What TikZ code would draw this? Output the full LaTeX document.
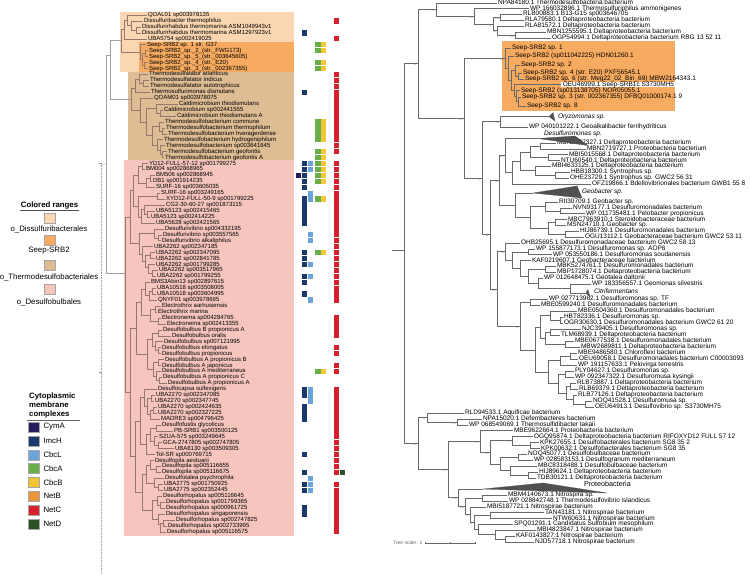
\documentclass[tikz,border=0pt]{standalone}
\usepackage{fontspec}
\setmainfont{Liberation Sans}
\definecolor{cDiss}{RGB}{250,215,178}
\definecolor{cSeep}{RGB}{246,171,96}
\definecolor{cTherm}{RGB}{222,188,148}
\definecolor{cDesb}{RGB}{246,198,190}
\definecolor{cLine}{RGB}{150,120,110}
\definecolor{cRoot}{RGB}{160,160,160}
\definecolor{cRline}{RGB}{105,105,105}
\definecolor{cClps}{RGB}{80,80,80}
\definecolor{cCymA}{RGB}{38,30,92}
\definecolor{cImcH}{RGB}{27,58,108}
\definecolor{cCbcL}{RGB}{106,164,218}
\definecolor{cCbcA}{RGB}{106,174,74}
\definecolor{cCbcB}{RGB}{242,198,52}
\definecolor{cNetB}{RGB}{234,150,56}
\definecolor{cNetC}{RGB}{214,32,44}
\definecolor{cNetD}{RGB}{42,82,36}
\tikzset{
	lf/.style      ={anchor=west, inner xsep=0.8pt, inner ysep=0pt, text height=4.2pt, text depth=1.1pt, font=\fontsize{6}{6}\selectfont},
	rf/.style      ={anchor=west, inner xsep=0.8pt, inner ysep=0pt, text height=3.9pt, text depth=0.9pt, font=\fontsize{6.5}{6.5}\selectfont},
	clab/.style    ={rf, font=\fontsize{6.5}{6.5}\selectfont\itshape},
	ltree/.style   ={draw=cLine, line width=0.5pt},
	rtree/.style   ={draw=cRline, line width=0.5pt},
	clps/.style    ={fill=cClps, draw=cClps, line width=0.3pt, line join=round},
	bsv/.style     ={anchor=north east, inner sep=0.3pt, font=\fontsize{2.2}{2.2}\selectfont, text=gray},
	legtxt/.style  ={inner sep=0.5pt, font=\fontsize{7.8}{9}\selectfont},
	legtitle/.style={inner sep=0.5pt, font=\fontsize{7.8}{9}\selectfont\bfseries},
	swatch/.style  ={draw=gray!70, line width=0.4pt, minimum width=11pt, minimum height=10pt, inner sep=0pt},
}
\begin{document}
\begin{tikzpicture}[x=1pt,y=-1pt]
\useasboundingbox (0,0) rectangle (750,574);
\fill[white] (0,0) rectangle (750,574);
% coloured ranges
\fill[cDiss] (120,12) rectangle (294,72);
\fill[cSeep] (139,41.5) rectangle (294,72);
\fill[cTherm] (128,72) rectangle (294,160);
\fill[cDesb] (124,160) rectangle (294,536);
\fill[cSeep] (502,41) rectangle (675,111);

% ---- left tree: leaves
\foreach \r/\lx/\txt in {0/147/QOAL01 sp003978135, 1/143/Dissulfuribacter thermophilus, 2/141/Dissulfurirhabdus thermomarina ASM1049943v1, 3/141/Dissulfurirhabdus thermomarina ASM1297923v1, 4/147/UBA5754 sp002419025,
	5/146/Seep-SRB2 sp. 1 str. G37, 6/148/Seep-SRB2\_sp.\_2\_(str.\_FWG173), 7/148/Seep-SRB2\_sp.\_5\_(str.\_003645605), 8/148/Seep-SRB2\_sp.\_4\_(str.\_E20), 9/148/Seep-SRB2\_sp.\_3\_(str.\_002367355),
	10/148/Thermodesulfatator atlanticus, 11/149/Thermodesulfatator indicus, 12/149/Thermodesulfatator autotrophicus, 13/150/Thermosulfurimonas dismutans, 14/153/QOAM01 sp003978075,
	15/178/Caldimicrobium thiodismutans, 16/163/Caldimicrobium sp002441555, 17/176/Caldimicrobium thiodismutans A, 18/164/Thermodesulfobacterium commune, 19/165/Thermodesulfobacterium thermophilum,
	20/167/Thermodesulfobacterium hveragerdense, 21/163/Thermodesulfobacterium hydrogeniphilum, 22/165/Thermodesulfobacterium sp003641645, 23/167/Thermodesulfobacterium geofontis, 24/164/Thermodesulfobacterium geofontis A,
	25/148/YD12-FULL-57-12 sp001799275, 26/145/BM004 sp002868965, 27/155/BM506 sp002868945, 28/152/DB1 sp001914235, 29/155/SURF-16 sp003605035,
	30/160/SURF-16 sp003249165, 31/165/XYD12-FULL-50-9 sp001799225, 32/165/CG2-30-60-27 sp001873115, 33/155/UBA5123 sp002415465, 34/150/UBA5123 sp002414225,
	35/155/UBA5628 sp002421565, 36/164/Desulfurivibrio sp004332195, 37/162/Desulfurivibrio sp003557565, 38/161/Desulfurivibrio alkaliphilus, 39/153/UBA2262 sp002347185,
	40/155/UBA2262 sp002347095, 41/155/UBA2262 sp002841785, 42/155/UBA2262 sp001799285, 43/158/UBA2262 sp003517965, 44/156/UBA2262 sp001799255,
	45/150/BMS3Abin13 sp002897615, 46/156/UBA10518 sp003508005, 47/156/UBA10518 sp003604995, 48/157/QNYF01 sp003978695, 49/161/Electrothrix aarhusiensis,
	50/157/Electrothrix marina, 51/161/Electronema sp004284765, 52/166/Electronema sp002413355, 53/162/Desulfobulbus B propionicus A, 54/171/Desulfobulbus oralis,
	55/163/Desulfobulbus sp007121995, 56/161/Desulfobulbus elongatus, 57/161/Desulfobulbus propionicus, 58/164/Desulfobulbus A propionicus B, 59/161/Desulfobulbus A japonicus,
	60/161/Desulfobulbus A mediterraneus, 61/162/Desulfobulbus A propionicus C, 62/167/Desulfobulbus A propionicus A, 63/157/Desulfocapsa sulfexigens, 64/155/UBA2270 sp002347085,
	65/154/UBA2270 sp002347745, 66/157/UBA2270 sp002424635, 67/157/UBA2270 sp002327225, 68/160/MADRE3 sp004796425, 69/161/Desulfofustis glycolicus,
	70/173/PB-SRB1 sp003500125, 71/158/SZUA-575 sp003249645, 72/162/GCA-2747805 sp002747805, 73/174/UBA8130 sp003509305, 74/155/Tol-SR sp000769715,
	75/154/Desulfopila aestuarii, 76/161/Desulfopila sp005116655, 77/161/Desulfopila sp005116675, 78/164/Desulfotalea psychrophila, 79/163/UBA2775 sp001750925,
	80/163/UBA2775 sp002352445, 81/162/Desulforhopalus sp005116645, 82/165/Desulforhopalus sp001799365, 83/165/Desulforhopalus sp000961725, 84/165/Desulforhopalus singaporensis,
	85/175/Desulforhopalus sp002747825, 86/167/Desulforhopalus sp002733995, 87/166/Desulforhopalus sp005116575}
	\node[lf] (l\r) at (\lx,{15+5.94*\r}) {\txt};

% ---- left tree: inner nodes (x / row)
\foreach \n/\x/\r in {dA/136/2.5, dB/131/1.75, dC/127/0.9, dD/124/2.4, sA/144/8.5, sB/145/6.5, sC/142/7.5, sD/140/6.25, dE/121/4.3,
	tA/143/11.5, tB/139/10.75, tC/135/12.4, cB/160/16.5, cA/156/15.75, eA/162/19.5, eB/159/18.75, eC/162/23.5, eD/160/22.75, eE/157/21.9,
	eF/152/20.3, cD/146/18, tE/140/16, tD/131/14.2, nA/110/6.73,
	p1a/142/25.5, p1b/150/27.5, p1c/146/28.25, p1d/138/26.9, p2a/157/30.5, p3a/147/33.5, p3b/144/32.75, p3c/141/34, p23/138/32.2, p123/133/29.5,
	p4a/158/37.5, p4b/154/36.75, p5a/150/40.5, p5b/152/43.5, p5c/148/42.5, p5d/145/41.5, p5e/142/40.2, p45/139/38.5, p12345/130/34,
	p6a/152/46.5, p6b/149/47.25, p6c/145/46.1, p7a/155/49.5, p7b/158/51.5, p7c/150/50.5, p67/141/48.3,
	p8a/158/56.5, p8b/155/55.75, p8c/158/53.5, p8d/152/54.6, p8e/158/58.5, p8f/159/61.5, p8g/156/60.75, p8h/153/59.6, p8i/147/57.1, p678/136/52.7,
	p9a/151/64.5, p9b/153/66.5, p9c/150/67.25, p9d/147/65.9, p9e/144/64.4, p10a/156/69.5, p10b/158/72.5, p10c/154/71.75, p10d/150/70.6, p10e/146/72.3, p910/140/68.4,
	p11a/156/76.5, p11b/150/75.75, p11c/158/79.5, p11d/154/78.75, p11e/146/77.25, p12a/160/82.5, p12b/157/81.75, p12c/163/85.5, p12d/160/85.75,
	p12e/158/84.9, p12f/152/83.3, p1112/142/80.3, p9to12/135/74.3, p6to12/130/63.5, pAll/125/43.43, Lroot/106/25.1}
	\coordinate (\n) at (\x,{15+5.94*\r});

\foreach \p/\c in {dB/dA, dC/dB, dD/dC, sC/sB, sC/sA, sD/sC, dE/dD, dE/sD, tB/tA, tC/tB, cA/cB, eB/eA, eD/eC, eE/eD, eF/eB, eF/eE,
	cD/cA, cD/eF, tE/cD, tD/tC, tD/tE, p1c/p1b, p1d/p1a, p1d/p1c, p3b/p3a, p3c/p3b, p23/p2a, p23/p3c, p123/p1d, p123/p23,
	p4b/p4a, p5c/p5b, p5d/p5a, p5d/p5c, p5e/p5d, p45/p4b, p45/p5e, p12345/p123, p12345/p45, p6b/p6a, p6c/p6b, p7c/p7a, p7c/p7b,
	p67/p6c, p67/p7c, p8b/p8a, p8d/p8c, p8d/p8b, p8g/p8f, p8h/p8e, p8h/p8g, p8i/p8d, p8i/p8h, p678/p67, p678/p8i,
	p9c/p9b, p9d/p9a, p9d/p9c, p9e/p9d, p10c/p10b, p10d/p10a, p10d/p10c, p10e/p10d, p910/p9e, p910/p10e,
	p11b/p11a, p11d/p11c, p11e/p11b, p11e/p11d, p12b/p12a, p12d/p12c, p12e/p12d, p12f/p12b, p12f/p12e, p1112/p11e, p1112/p12f,
	p9to12/p910, p9to12/p1112, p6to12/p678, p6to12/p9to12, pAll/p12345, pAll/p6to12}
	\draw[ltree] (\p) |- (\c);
\foreach \p/\c in {Lroot/nA, Lroot/pAll, nA/dE, nA/tD}
	\draw[ltree, draw=cRoot] (\p) |- (\c);
\foreach \p/\r in {dC/0, dB/1, dA/2, dA/3, dD/4, sD/5, sB/6, sB/7, sA/8, sA/9, tB/10, tA/11, tA/12, tC/13, tE/14, cA/15, cB/16, cB/17,
	eB/18, eA/19, eA/20, eE/21, eD/22, eC/23, eC/24, p1a/25, p1a/26, p1b/27, p1b/28, p1c/29, p2a/30, p2a/31, p3b/32, p3a/33, p3a/34, p3c/35,
	p4b/36, p4a/37, p4a/38, p5e/39, p5a/40, p5a/41, p5c/42, p5b/43, p5b/44, p6c/45, p6a/46, p6a/47, p6b/48, p7a/49, p7a/50, p7b/51, p7b/52,
	p8c/53, p8c/54, p8b/55, p8a/56, p8a/57, p8e/58, p8e/59, p8g/60, p8f/61, p8f/62, p9e/63, p9a/64, p9a/65, p9b/66, p9b/67, p9c/68,
	p10a/69, p10a/70, p10c/71, p10b/72, p10b/73, p10e/74, p11b/75, p11a/76, p11a/77, p11d/78, p11c/79, p11c/80,
	p12b/81, p12a/82, p12a/83, p12e/84, p12c/85, p12c/86, p12d/87}
	\draw[ltree] (\p) |- (l\r.west);

% root stub and dotted divider
\coordinate (dvTop) at (101.5,163);
\coordinate (dvBot) at (101.5,574);
\draw[cRoot, line width=0.5pt, dash pattern=on 0.8pt off 0.8pt] (dvTop) -- (dvBot);
\draw[cRoot, line width=0.5pt] (dvTop) -- ++(-2.5,0);
\draw[cRoot, line width=0.5pt] (101.5,372) -- ++(-2.5,0);
\draw[ltree, draw=cRoot] (101.5,164) -- (Lroot);

% ---- heat map
\foreach \cx/\col/\rows in {298.2/cCymA/{27},
	304.2/cImcH/{3,13,25,26,27,28,29,31,32,33,34,35,40,41,42,44,45,47,63,64,66,67,68,74,77,79,80,83,84},
	310.5/cCbcL/{25,26,30,31,37,38,42,44,48,63,64,65,78,79,80},
	317.8/cCbcA/{5,6,8,9,18,19,20,21,23,24,25,26,27,28,31,40,60},
	323.3/cCbcB/{5,6,8,9,18,19,20,21,23,24,25,26,27,28,31,40,60},
	336.3/cNetC/{1,4,10,11,12,13,14,15,16,17,18,19,20,21,22,23,25,26,27,28,29,30,31,32,33,34,35,36,37,38,39,40,41,42,43,44,45,46,47,48,51,52,53,54,56,57,59,60,63,64,65,66,67,68,69,70,71,72,73,74,75,76,77,79,80,81,82,83,84,85,86,87},
	342.2/cNetD/{77}}
	{\foreach \r in \rows {\fill[\col] ({\cx-2.7},{15+5.94*\r-2.7}) rectangle ++(5.4,5.4);}}

% ---- right tree: leaves
\foreach \k/\lx/\y/\txt in {1/497/3/NPA84180.1 Thermodesulfobacteria bacterium, 2/529/8.5/WP 166032896.1 Thermosulfuriphilus ammonigenes,
	3/522/14/RLB00883.1 B13-G15 sp003646705, 4/524/20/RLA79580.1 Deltaproteobacteria bacterium, 5/524/26/RLA81572.1 Deltaproteobacteria bacterium,
	6/546/32/MBN1255595.1 Deltaproteobacteria bacterium, 7/551/38/OGP54994.1 Deltaproteobacteria bacterium RBG 13 52 11,
	8/511/48/Seep-SRB2 sp. 1, 9/514/56/Seep-SRB2 (sp011042225) HDN01260.1, 10/520/65/Seep-SRB2 sp. 2,
	11/522/73/Seep-SRB2 sp. 4 (str. E20) PXF56545.1, 12/524/79/Seep-SRB2 sp. 6 (str. Meg22\_02\_Bin\_69) MBW2164343.1,
	14/520/90.5/Seep-SRB2 (sp013138705) NOR05055.1, 15/521/97/Seep-SRB2 sp. 3 (str. 002367355) DFBQ01000174.1 9, 16/526/106/Seep-SRB2 sp. 8,
	18/528/127/WP 040101222.1 Geoalkalibacter ferrihydriticus, 20/556/143/MBN2707327.1 Deltaproteobacteria bacterium,
	21/586/148.9/MBN2719727.1 Proteobacteria bacterium, 22/568/154.7/MBI5015568.1 Deltaproteobacteria bacterium, 23/560/160.6/NTU60540.1 Deltaproteobacteria bacterium,
	24/551/166.4/MBI4633125.1 Deltaproteobacteria bacterium, 25/570/172.3/HBB18300.1 Syntrophus sp., 26/569/178.1/OHE23729.1 Syntrophus sp. GWC2 56 31,
	27/591/184/OFZ19866.1 Bdellovibrionales bacterium GWB1 55 8, 29/558/202/RII30709.1 Geobacter sp., 30/572/207.8/NVN93177.1 Desulfuromonadales bacterium,
	31/585/213.7/WP 011735481.1 Pelobacter propionicus, 32/567/219.5/MBC7963910.1 Steroidobacteraceae bacterium, 33/566/225.3/MSN24710.1 Geobacter sp.,
	34/579/231.2/HIJ86739.1 Desulfuromonadales bacterium, 35/584/237/OGU13112.1 Geobacteraceae bacterium GWC2 53 11,
	36/520/243/OHB25695.1 Desulfuromonadaceae bacterium GWC2 58 13, 37/535/248.9/WP 155877173.1 Desulfuromonas sp. AOP6,
	38/552/254.7/WP 053550186.1 Desulfuromonas soudanensis, 39/531/260.6/KAF0219607.1 Geobacteraceae bacterium,
	40/556/266.4/MBK5274761.1 Desulfuromonadales bacterium, 41/556/272.3/MBP1728074.1 Deltaproteobacteria bacterium,
	42/543/278.1/WP 012648475.1 Geotalea daltonii, 43/591/284/WP 183356557.1 Geomonas silvestris,
	45/548/299/WP 027713962.1 Desulfuromonas sp. TF, 46/540/305/MBE0599240.1 Desulfuromonadales bacterium,
	47/577/311/MBE0504360.1 Desulfuromonadales bacterium, 48/563/317/HBT82336.1 Desulfuromonas sp.,
	49/563/323/OGR30630.1 Desulfuromonadales bacterium GWC2 61 20, 50/581/329/NJC39405.1 Desulfuromonas sp.,
	51/560/335/TLM68939.1 Deltaproteobacteria bacterium, 52/574/341/MBE0677538.1 Desulfuromonadales bacterium,
	53/580/347/MBW2689811.1 Deltaproteobacteria bacterium, 54/577/353/MBE9486580.1 Chloroflexi bacterium,
	55/578/359/OEU69058.1 Desulfuromonadales bacterium C00003093, 56/577/365/WP 191157633.1 Pelovirga terrestris,
	57/574/371/PLY04627.1 Desulfuromonas sp., 58/574/377/WP 092347322.1 Desulfuromusa kysingii,
	59/576/383/RLB73887.1 Deltaproteobacteria bacterium, 60/578/389/RLB69379.1 Deltaproteobacteria bacterium,
	61/577/395/RLB77126.1 Deltaproteobacteria bacterium, 62/592/401/NOQ41528.1 Desulfuromusa sp., 63/594/407/OEU64913.1 Desulfovibrio sp. S3730MH75,
	64/464/413/RLD94533.1 Aquificae bacterium, 65/482/418.9/NPA15020.1 Defembacteres bacterium, 66/468/424.8/WP 068549069.1 Thermosulfidibacter takaii,
	67/513/430.7/MBE9622664.1 Proteobacteria bacterium, 68/533/436.6/OGQ95874.1 Deltaproteobacteria bacterium RIFOXYD12 FULL 57 12,
	69/539/442.5/KPK27655.1 Desulfobacterales bacterium SG8 35 2, 70/540/448.5/KPK00632.1 Desulfobacterales bacterium SG8 35,
	71/527/454.4/NOQ45077.1 Desulfobulbaceae bacterium, 72/533/460.3/WP 028583153.1 Desulfogranum mediterraneum,
	73/537/466.2/MBC8318488.1 Desulfobulbaceae bacterium, 74/538/472.1/HIJ89624.1 Deltaproteobacteria bacterium,
	75/536/478/TDB30121.1 Deltaproteobacteria bacterium, 77/507/495/MBM4140673.1 Nitrospira sp.,
	78/508/500.9/WP 028842748.1 Thermodesulfovibrio islandicus, 79/486/506.8/MBI5187721.1 Nitrospirae bacterium,
	80/544/512.6/TAN43181.1 Nitrospirae bacterium, 81/552/518.5/NTW60631.1 Nitrospirae bacterium,
	82/513/524.4/SPQ01291.1 Candidatus Sulfobium mesophilum, 83/536/530.3/MBI4823847.1 Nitrospirae bacterium,
	84/515/536.1/KAF0143827.1 Nitrospirae bacterium, 85/534/542/NJD57718.1 Nitrospirae bacterium}
	\node[rf] (t\k) at (\lx,\y) {\txt};
\node[rf, fill=white, inner xsep=1.6pt] (t13) at (561,84.5) {OEU46999.1 Seep-SRB1c S3730MH5};
\node[clab] (t17) at (557,117) {Oryzomonas sp.};
\node[clab] (t19) at (543,133.5) {Desulfuromonas sp.};
\node[clab] (t28) at (581,192) {Geobacter sp.};
\node[clab] (t44) at (593,292) {Citrifermentans};
\node[rf, font=\fontsize{7.2}{7.2}\selectfont] (t76) at (583,485) {Proteobacteria};

% ---- right tree: inner nodes
\foreach \n/\x/\y in {rs/392/250, r0/404/250, rU/418/63.5, rU1/436/9, rA/474/15.9, rB/493/23.75, rC/500/17, rD/497/30.5, rE/515/35,
	rU2/464/118, rS/505/58, rS2/508/68, rS3/511/80.5, rS4/515/70.5, rS5/518/76, rS6/514/90.5, rS7/516/96, rS8/518/101.5,
	rG/482/178, rGa/500/121.5, a1/540/146, a2/548/157.5, a3/530/151.75, a4/555/175, a5/535/170.5, a6/520/161, a7/512/172.5, a8/505/155,
	b1/560/211, b2/545/206.5, b3/555/222.5, b4/565/234, b5/548/228, b6/530/217, b7/515/205, ab/499/180,
	c1/528/252, c2/545/269.5, c3/570/288.5, c4/538/283, c5/528/276, c6/520/268.5, c7/512/260, c8/505/251.5,
	d1/530/302, d2/550/315.5, d3/560/320, d4/550/332, d5/565/344, d6/545/338, d7/540/326.75, d8/570/356, d9/560/360.5,
	d10/565/374, d11/570/386, d12/585/404, d13/573/399.5, d14/566/392.75, d15/558/383.4, d16/548/372, d17/535/350, d18/520/326,
	cd/497/289, abcd/490/234.5, rL/418/443.5, rL1/427/417.5, rL1b/457/422, rL2/448/469.5, rM/480/441.5, rM2/490/452,
	rM3/512/440.5, rM4/530/445.5, rM5/500/463.75, rM6/518/457.3, rM7/510/470.5, rM8/528/475, rN/458/497.5, rN2/465/506,
	rN3/482/498, rN4/470/514.5, rN5/474/522, rN6/490/515.5, rN7/478/529, rN8/495/534.5, rN9/505/539,
	oryzA/549/116.5, desA/538/138.5, geoA/533/193, citA/586/293, protA/483/489}
	\coordinate (\n) at (\x,\y);

% collapsed clades
\fill[clps] (oryzA) -- (553,112.5) -- (555,121) -- cycle;
\fill[clps] (desA) -- (575,136) -- (588,145.5) -- cycle;
\fill[clps] (geoA) -- (577,186) -- (582,198) -- cycle;
\fill[clps] (citA) -- (588,289.5) -- (590,297) -- cycle;
\fill[clps] (protA) -- (543,483) -- (607,493) -- cycle;

\foreach \p/\c in {rs/r0, r0/rU, r0/rL, rU/rU1, rU/rU2, rU1/rA, rA/rB, rB/rC, rB/rD, rD/rE, rU2/rS, rU2/rG,
	rS/rS2, rS2/rS3, rS3/rS4, rS4/rS5, rS3/rS6, rS6/rS7, rS7/rS8, rG/rGa, rG/abcd, rGa/oryzA,
	a8/desA, a8/a7, a7/a6, a6/a3, a6/a5, a3/a1, a3/a2, a5/a4, ab/a8, ab/b7, b7/geoA, b7/b6, b6/b2, b6/b5, b2/b1, b5/b3, b5/b4,
	abcd/ab, abcd/cd, cd/c8, cd/d18, c8/c7, c7/c1, c7/c6, c6/c5, c5/c2, c5/c4, c4/c3, c3/citA,
	d18/d1, d18/d17, d17/d7, d17/d16, d7/d2, d7/d6, d2/d3, d6/d4, d6/d5, d16/d9, d16/d15, d9/d8, d15/d10, d15/d14, d14/d11, d14/d13, d13/d12,
	rL/rL1, rL/rL2, rL1/rL1b, rL2/rM, rL2/rN, rM/rM2, rM2/rM3, rM2/rM5, rM3/rM4, rM5/rM6, rM5/rM7, rM7/rM8,
	rN/protA, rN/rN2, rN2/rN3, rN2/rN4, rN4/rN5, rN5/rN6, rN5/rN7, rN7/rN8, rN8/rN9}
	\draw[rtree] (\p) |- (\c);
\foreach \p/\k in {rU1/1, rA/2, rC/3, rC/4, rD/5, rE/6, rE/7, rS/8, rS2/9, rS4/10, rS5/11, rS5/12, rS6/13, rS7/14, rS8/15, rS8/16,
	rGa/18, a1/20, a1/21, a2/22, a2/23, a5/24, a4/25, a4/26, a7/27, b2/29, b1/30, b1/31, b3/32, b3/33, b4/34, b4/35,
	c8/36, c1/37, c1/38, c6/39, c2/40, c2/41, c4/42, c3/43, d1/45, d1/46, d2/47, d3/48, d3/49, d4/50, d4/51, d5/52, d5/53,
	d8/54, d8/55, d9/56, d10/57, d10/58, d11/59, d11/60, d13/61, d12/62, d12/63, rL1/64, rL1b/65, rL1b/66,
	rM/67, rM3/68, rM4/69, rM4/70, rM6/71, rM6/72, rM7/73, rM8/74, rM8/75, rN3/77, rN3/78, rN4/79, rN6/80, rN6/81,
	rN7/82, rN8/83, rN9/84, rN9/85}
	\draw[rtree] (\p) |- (t\k.west);

% support values
\foreach \n/\v [count=\i] in {rU/99, rU1/90, rA/100, rB/97, rC/100, rD/98, rE/100, rU2/100, rS/100, rG/93, rGa/99, a8/100, ab/98,
	abcd/96, c8/99, cd/100, d18/97, rL/100, rL1/97, rL1b/100, rL2/100, rM/100, rM2/100, rM3/100, rN/100, rN2/100, rN4/97, rN5/99}
	\node[bsv] (bs\i) at ([xshift=-0.8pt,yshift=-0.4pt]\n) {\v};

% tree scale
\coordinate (sbA) at (425,543);
\coordinate (sbB) at (475,543);
\draw[cRline, line width=0.45pt] (sbA) -- (sbB);
\foreach \sx in {425,450,475} \draw[cRline, line width=0.45pt] (\sx,541.8) -- (\sx,544.2);
\node[anchor=east, inner sep=0.5pt, font=\fontsize{5}{5}\selectfont, text=gray!80!black] (sbLab) at (423,543) {Tree scale: 1};

% ---- legend: coloured ranges
\node[legtitle] (crTitle) at (49.5,205.5) {Colored ranges};
\draw[black!70, line width=0.5pt] (crTitle.south west) -- (crTitle.south east);
\foreach \col/\sy/\ty/\txt in {cDiss/218/229/o\_Dissulfuribacterales, cSeep/240.5/251/Seep-SRB2, cTherm/265/277.5/o\_Thermodesulfobacteriales, cDesb/289.5/302.5/o\_Desulfobulbales}
	{\node[swatch, fill=\col] (sw\col) at (49.5,\sy) {};
	 \node[legtxt] (lg\col) at (49,\ty) {\txt};}

% ---- legend: membrane complexes
\node[legtitle, align=left, anchor=north west] (cmTitle) at (28.5,392) {Cytoplasmic\\membrane\\complexes};
\coordinate (cmA) at (27,420);
\coordinate (cmB) at (80,420);
\draw[black!60, line width=0.5pt] (cmA) -- (cmB);
\foreach \col/\txt [count=\i from 0] in {cCymA/CymA, cImcH/ImcH, cCbcL/CbcL, cCbcA/CbcA, cCbcB/CbcB, cNetB/NetB, cNetC/NetC, cNetD/NetD}
	{\node[swatch, fill=\col, minimum width=10.7pt] (k\txt) at (33.7,{427+13.86*\i}) {};
	 \node[legtxt, anchor=west] (kl\txt) at (42.8,{427+13.86*\i}) {\txt};}
\end{tikzpicture}
\end{document}
